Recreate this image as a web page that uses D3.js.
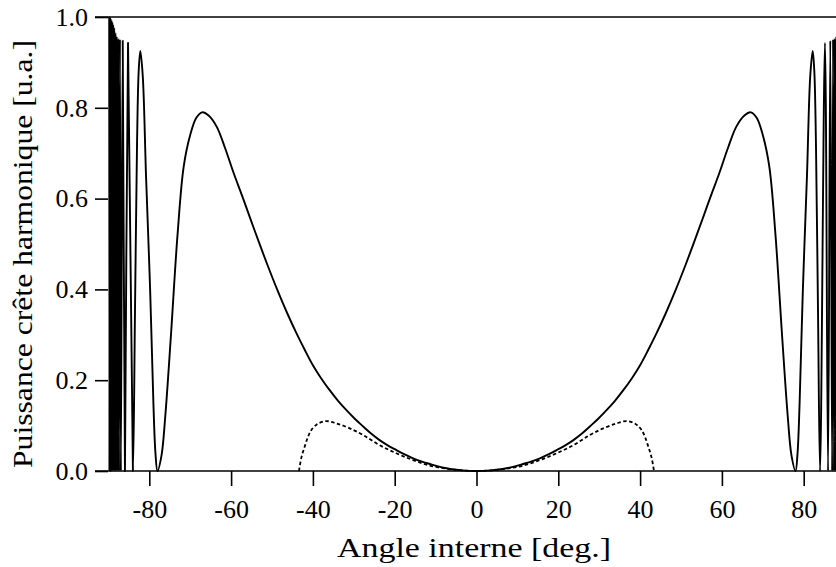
<!DOCTYPE html>
<html>
<head>
<meta charset="utf-8">
<script src="https://cdn.jsdelivr.net/npm/d3@7"></script>
<style>
  body { margin: 0; background: #fff; }
  text { font-family: "Liberation Serif", "Times New Roman", serif; fill: #000; }
</style>
</head>
<body>
<div id="chart"></div>
<script>
// Angle interne (deg) and peak harmonic power (a.u.)
const solidAngles = [
  -89.8, -89.75, -89.7, -89.65, -89.59, -89.52, -89.44, -89.36, -89.27, -89.17,
  -89.07, -88.96, -88.84, -88.72, -88.59, -88.45, -88.3, -88.15, -87.98, -87.8,
  -87.6, -87.4, -87.18, -86.95, -86.5, -85.95, -85.2, -84.0,
  -83.5, -83.0, -82.6, -82.2, -81.6, -80.8, -79.8, -79.0, -78.5, -78.0,
  -77.0, -76.1, -74.7, -73.1, -71.6, -70.0, -68.5, -67.1, -65.5, -63.5,
  -61.5, -59.4, -57.3, -55.3, -53.2, -51.2, -48.7, -46.3, -44.0, -42.0,
  -40.0, -38.0, -35.9, -33.8, -31.8, -29.7, -27.7, -25.7, -23.7, -21.8,
  -20.0, -17.7, -15.5, -13.5, -11.4, -9.4, -7.3, -5.4, -3.5, 0,
  3.5, 5.4, 7.3, 9.4, 11.4, 13.5, 15.5, 17.7, 20.0,
  21.8, 23.7, 25.7, 27.7, 29.7, 31.8, 33.8, 35.9, 38.0, 40.0,
  42.0, 44.0, 46.3, 48.7, 51.2, 53.2, 55.3, 57.3, 59.4, 61.5,
  63.5, 65.5, 67.1, 68.5, 70.0, 71.6, 73.1, 74.7, 76.1, 77.0,
  78.0, 78.5, 79.0, 79.8, 80.8, 81.6, 82.2, 82.6, 83.0, 83.5,
  84.0, 85.2, 85.95, 86.5, 86.95, 87.18, 87.4, 87.6, 87.8, 87.98,
  88.15, 88.3, 88.45, 88.59, 88.72, 88.84, 88.96, 89.07, 89.17, 89.27,
  89.36, 89.44, 89.52, 89.59, 89.65, 89.7, 89.75, 89.8
];
const solidPower = [
  1.0, 0, 1.0, 0, 0.999, 0, 0.997, 0, 0.994, 0,
  0.99, 0, 0.984, 0, 0.977, 0, 0.966, 0, 0.958, 0,
  0.953, 0, 0.951, 0, 0.948, 0, 0.943, 0,
  0.35, 0.72, 0.88, 0.925, 0.87, 0.65, 0.40, 0.15, 0.04, 0,
  0.035, 0.12, 0.30, 0.52, 0.67, 0.74, 0.778, 0.79, 0.783, 0.758,
  0.712, 0.657, 0.606, 0.556, 0.504, 0.456, 0.399, 0.348, 0.303, 0.267,
  0.233, 0.2045, 0.178, 0.154, 0.134, 0.1145, 0.098, 0.082, 0.068, 0.057,
  0.048, 0.037, 0.028, 0.0213, 0.0154, 0.0101, 0.006, 0.0033, 0.0014, 0,
  0.0014, 0.0033, 0.006, 0.0101, 0.0154, 0.0213, 0.028, 0.037, 0.048,
  0.057, 0.068, 0.082, 0.098, 0.1145, 0.134, 0.154, 0.178, 0.2045, 0.233,
  0.267, 0.303, 0.348, 0.399, 0.456, 0.504, 0.556, 0.606, 0.657, 0.712,
  0.758, 0.783, 0.79, 0.778, 0.74, 0.67, 0.52, 0.30, 0.12, 0.035,
  0, 0.04, 0.15, 0.40, 0.65, 0.87, 0.925, 0.88, 0.72, 0.35,
  0, 0.943, 0, 0.948, 0, 0.951, 0, 0.953, 0, 0.958,
  0, 0.966, 0, 0.977, 0, 0.984, 0, 0.99, 0, 0.994,
  0, 0.997, 0, 0.999, 0, 1.0, 0, 1.0
];

const dashedAngles = [
  -43.4, -42.8, -42.0, -41.2, -40.4, -39.4, -38.4, -36.7, -34.3, -31.0,
  -27.7, -23.7, -19.6, -15.5, -11.4, -7.3, -3.5, 0,
  3.5, 7.3, 11.4, 15.5, 19.6, 23.7, 27.7, 31.0, 34.3, 36.7,
  38.4, 39.4, 40.4, 41.2, 42.0, 42.8, 43.4
];
const dashedPower = [
  0, 0.03, 0.054, 0.075, 0.09, 0.1, 0.106, 0.11, 0.105, 0.094,
  0.079, 0.057, 0.039, 0.024, 0.012, 0.005, 0.0012, 0,
  0.0012, 0.005, 0.012, 0.024, 0.039, 0.057, 0.079, 0.094, 0.105, 0.11,
  0.106, 0.1, 0.09, 0.075, 0.054, 0.03, 0
];

const xTicks = [-80, -60, -40, -20, 0, 20, 40, 60, 80];
const yTicks = [0, 0.2, 0.4, 0.6, 0.8, 1.0];

const width = 836;
const height = 567;

const svg = d3.select("#chart")
  .append("svg")
  .attr("width", width)
  .attr("height", height);

const x = d3.scaleLinear().domain([-90, 90]).range([108.4, 844.6]);
const y = d3.scaleLinear().domain([0, 1]).range([471, 17]);

// clip the curves to the plot (right end is cut off like the original)
svg.append("clipPath").attr("id", "plot-clip")
  .append("rect").attr("x", 95).attr("y", 0).attr("width", width - 95).attr("height", 472);

// x axis
const xAxis = svg.append("g")
  .attr("transform", "translate(0,471)")
  .call(d3.axisBottom(x).tickValues(xTicks).tickSize(15).tickPadding(14).tickFormat(d => String(d)));
xAxis.select(".domain").remove();
xAxis.selectAll(".tick line").attr("stroke", "#000").attr("stroke-width", 1.6);
xAxis.selectAll(".tick text").attr("font-size", 26).attr("font-family", "Liberation Serif");
svg.append("line")
  .attr("x1", 95).attr("x2", width)
  .attr("y1", 471).attr("y2", 471)
  .attr("stroke", "#000").attr("stroke-width", 1.6);

// y axis (ticks only)
const yAxis = svg.append("g")
  .attr("transform", "translate(108,0)")
  .call(d3.axisLeft(y).tickValues(yTicks).tickSize(13).tickPadding(7).tickFormat(d => d.toFixed(1)));
yAxis.select(".domain").remove();
yAxis.selectAll(".tick line").attr("stroke", "#000").attr("stroke-width", 1.6);
yAxis.selectAll(".tick text").attr("font-size", 26).attr("font-family", "Liberation Serif");

// top line at 1.0
svg.append("line")
  .attr("x1", 95).attr("x2", width)
  .attr("y1", y(1)).attr("y2", y(1))
  .attr("stroke", "#000").attr("stroke-width", 1.6);

const line = d3.line()
  .x(d => x(d[0]))
  .y(d => y(d[1]))
  .curve(d3.curveCatmullRom.alpha(0.5));

const plot = svg.append("g").attr("clip-path", "url(#plot-clip)");

plot.append("path")
  .datum(solidAngles.map((a, i) => [a, solidPower[i]]))
  .attr("fill", "none")
  .attr("stroke", "#000")
  .attr("stroke-width", 1.9)
  .attr("stroke-linejoin", "round")
  .attr("d", line);

plot.append("path")
  .datum(dashedAngles.map((a, i) => [a, dashedPower[i]]))
  .attr("fill", "none")
  .attr("stroke", "#000")
  .attr("stroke-width", 1.8)
  .attr("stroke-dasharray", "3.5,2.5")
  .attr("d", line);

// axis titles
svg.append("text")
  .attr("x", 474).attr("y", 557)
  .attr("text-anchor", "middle")
  .attr("font-size", 28)
  .attr("textLength", 274)
  .attr("lengthAdjust", "spacingAndGlyphs")
  .text("Angle interne [deg.]");

svg.append("text")
  .attr("transform", "translate(32,254) rotate(-90)")
  .attr("text-anchor", "middle")
  .attr("font-size", 28)
  .attr("textLength", 428)
  .attr("lengthAdjust", "spacingAndGlyphs")
  .text("Puissance crête harmonique [u.a.]");
</script>
</body>
</html>
